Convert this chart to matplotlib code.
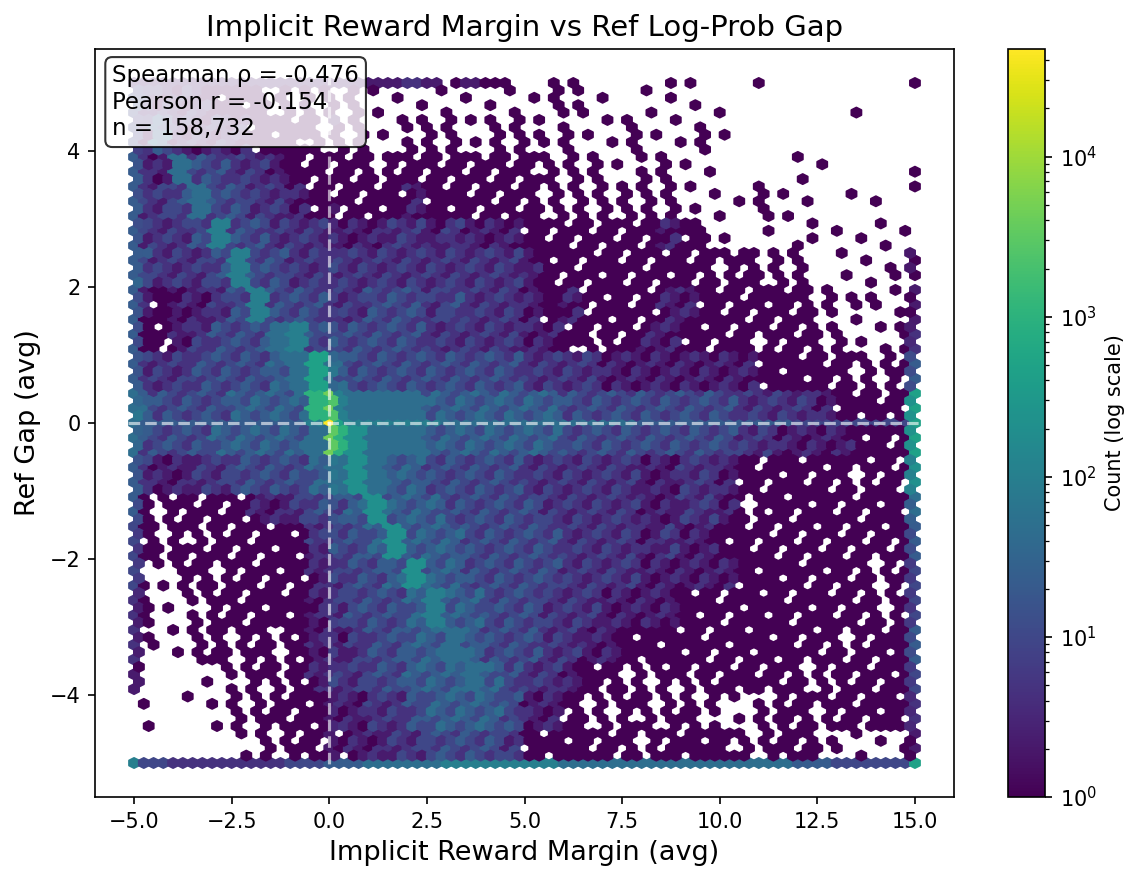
import numpy as np
import matplotlib
matplotlib.use('Agg')
import matplotlib.pyplot as plt
from matplotlib.colors import LogNorm

# Density, one character per 0.5 x 0.5 cell.
# '.' empty, ',' ':' ';' = scattered single counts (roughly 1/7, 3/7, 5/7 of hexes),
# '0'..'e' = cells with count 10 ** (level / 3)
LEVELS = "0123456789abcde"
x_range = (-5, 15)
y_range = (-5, 5)
cell = 0.5

density_rows = [  # top row is y 4.5..5, columns run x -5..15
    "2111000:::" "::,,,,,,,," ",::,,.,,,." ",......,..",
    "141111000:" "::,,:::,::" ":,:,,:,,,:" ",.........",
    "215332210;" ";;:;;;;;;;" ";:::,,::,," "..,.,,....",
    "2235332210" ";;;0100;;;" ";:::::::,," ",,:,,.,.,.",
    "2223633222" "1112212111" "0;;;;;;10:" ",.,.:.,,,,",
    "3222363322" "2222222222" "10;;0;;0;;" ":;:::.,,,:",
    "1011236333" "2233323222" "101;0;;110" ";;0;;:,:,,",
    "0;12333563" "3333322222" "110:;;110;" ";0:;;::,,:",
    "2223333458" "4333333333" "2222111111" "11000;;::;",
    "4333344449" "6555544444" "4433333333" "32222100;;",
    "3333444445" "9755544444" "4433333333" "322111100;",
    "2112233334" "5754433333" "2222221122" "10;0;0;:;;",
    "::;;;01123" "3474443333" "3222221122" "1:0;;0;;00",
    ";:;:;;;002" "3347444333" "3322221211" "00;;;;;;;;",
    ":,:;:;;0;1" "2334744333" "3322221111" "1000;0;;:;",
    ":,,:;;;001" "2333464433" "3222111100" ";00;;0;;:;",
    ":,,:;:;:01" "1233445433" "322110000;" "0;00;;:;;0",
    ",..,,:;:;1" "2233444543" "2210;::;:;" ";0;;::;;;0",
    ",.,.,::;;0" "1122344443" "11;::;::;:" ",,:;;:;;00",
    ",....,::;;" "0112233332" "000;;;:;00" ";::;;:,,,,",
]

# clipped values pile up on the border rows / columns and on the zero lines
top_edge = "1111111111" "111121;1;:" ",:::,..:,." "..,......."
bottom_edge = "3322222233" "4455556666" "6655555555" "5555443333"
left_edge = "3344444445" "54433221,,"     # by row, top to bottom
right_edge = "..,::;1248" "8754334321"
zero_row = "4444444446" "8666665555" "5555554444" "4444333333"  # y = 0
zero_col = "::;012235b" "b532222211"                             # x = 0
corners = {'bl': '6', 'br': '8', 'tl': '1', 'tr': '0'}
peak_count = 47000

spearman = -0.476
pearson = -0.154
n_points = 158732

fill_classes = {'.': set(), ',': {0}, ':': {0, 2, 5}, ';': {0, 1, 2, 4, 5},
                '0': {0, 1, 2, 4, 5, 6}}
shade_of_class = {1: -1, 4: -1, 2: 1, 6: 1}


def hex_class(c, r):
    # seven-colouring of the hex grid: every neighbour has a different class
    q = (c - r) // 2
    return (q + 3 * r) % 7


def level_count(code, shade=0):
    return 10 ** ((LEVELS.index(code) + shade) / 3)


def hex_count(code, c, r, textured=True):
    k = hex_class(c, r)
    if code in fill_classes:
        return 1.0 if k in fill_classes[code] else 0.0
    lvl = LEVELS.index(code)
    shade = shade_of_class.get(k, 0) if (textured and lvl <= 4) else 0
    return level_count(code, shade)


def partner_count(code, c, r):
    # the offset hex next to a clipped column catches about half of its points
    if code in LEVELS and code != '0':
        return level_count(code) / 2
    return hex_count({'0': ';', ';': ':', ':': ',', ',': '.', '.': '.'}[code], c, r)


def col_of(x):
    return min(int((x - x_range[0]) / cell), 39)


def row_of(y):
    return min(int((y_range[1] - y) / cell), 19)


gridsize = 80
nx = gridsize
ny = int(nx / np.sqrt(3))
sx = (x_range[1] - x_range[0]) / nx
sy = (y_range[1] - y_range[0]) / ny
i_zero = int(round(-x_range[0] / sx))
j_zero = int(round(-y_range[0] / sy))

xs, ys, cs = [], [], []

# main lattice
for i in range(nx + 1):
    for j in range(ny + 1):
        x = x_range[0] + i * sx
        y = y_range[0] + j * sy
        c, r = 2 * i, 2 * j
        col, row = col_of(x), row_of(y)
        if j == 0 and i == 0:
            v = level_count(corners['bl'])
        elif j == 0 and i == nx:
            v = level_count(corners['br'])
        elif j == ny and i == 0:
            v = level_count(corners['tl'])
        elif j == ny and i == nx:
            v = level_count(corners['tr'])
        elif j == 0:
            v = hex_count(bottom_edge[col], c, r, textured=False)
        elif j == ny:
            v = hex_count(top_edge[col], c, r, textured=False)
        elif i == 0:
            v = hex_count(left_edge[row], c, r, textured=False)
        elif i == nx:
            v = hex_count(right_edge[row], c, r, textured=False)
        elif i == i_zero and j == j_zero:
            v = peak_count
        elif j == j_zero:
            v = hex_count(zero_row[col], c, r, textured=False)
        elif i == i_zero:
            v = hex_count(zero_col[row], c, r, textured=False)
        else:
            v = hex_count(density_rows[row][col], c, r)
        if v > 0:
            xs.append(x)
            ys.append(y)
            cs.append(v)

# offset lattice
for i in range(nx):
    for j in range(ny):
        x = x_range[0] + (i + 0.5) * sx
        y = y_range[0] + (j + 0.5) * sy
        c, r = 2 * i + 1, 2 * j + 1
        col, row = col_of(x), row_of(y)
        v = hex_count(density_rows[row][col], c, r)
        if i == 0:
            v += partner_count(left_edge[row], c, r)
        elif i == nx - 1:
            v += partner_count(right_edge[row], c, r)
        elif i == i_zero:
            v += partner_count(zero_col[row], c, r)
        if v > 0:
            xs.append(x)
            ys.append(y)
            cs.append(v)

xs = np.array(xs)
ys = np.array(ys)
cs = np.array(cs)

fig = plt.figure(figsize=(7.6, 5.88), dpi=150)
ax = fig.add_axes([95 / 1140, 1 - 797 / 882, 859 / 1140, 748 / 882])
cax = fig.add_axes([1008 / 1140, 1 - 797 / 882, 37 / 1140, 748 / 882])

hb = ax.hexbin(xs, ys, C=cs, gridsize=gridsize, reduce_C_function=np.sum,
               extent=(x_range[0], x_range[1], y_range[0], y_range[1]),
               cmap='viridis', norm=LogNorm(vmin=1, vmax=peak_count))
ax.set_xlim(-6, 16)
ax.set_ylim(-5.5, 5.5)

ax.axhline(0, color='white', linestyle='--', linewidth=1.5, alpha=0.6)
ax.axvline(0, color='white', linestyle='--', linewidth=1.5, alpha=0.6)

ax.set_xlabel('Implicit Reward Margin (avg)', fontsize=13)
ax.set_ylabel('Ref Gap (avg)', fontsize=13)
ax.set_title('Implicit Reward Margin vs Ref Log-Prob Gap', fontsize=14)

stats = f'Spearman ρ = {spearman:.3f}\nPearson r = {pearson:.3f}\nn = {n_points:,}'
ax.text(0.02, 0.98, stats, transform=ax.transAxes, fontsize=11, va='top',
        bbox=dict(boxstyle='round', facecolor='white', alpha=0.8))

cb = fig.colorbar(hb, cax=cax)
cb.set_label('Count (log scale)')

fig.savefig('out.png', dpi=150)
